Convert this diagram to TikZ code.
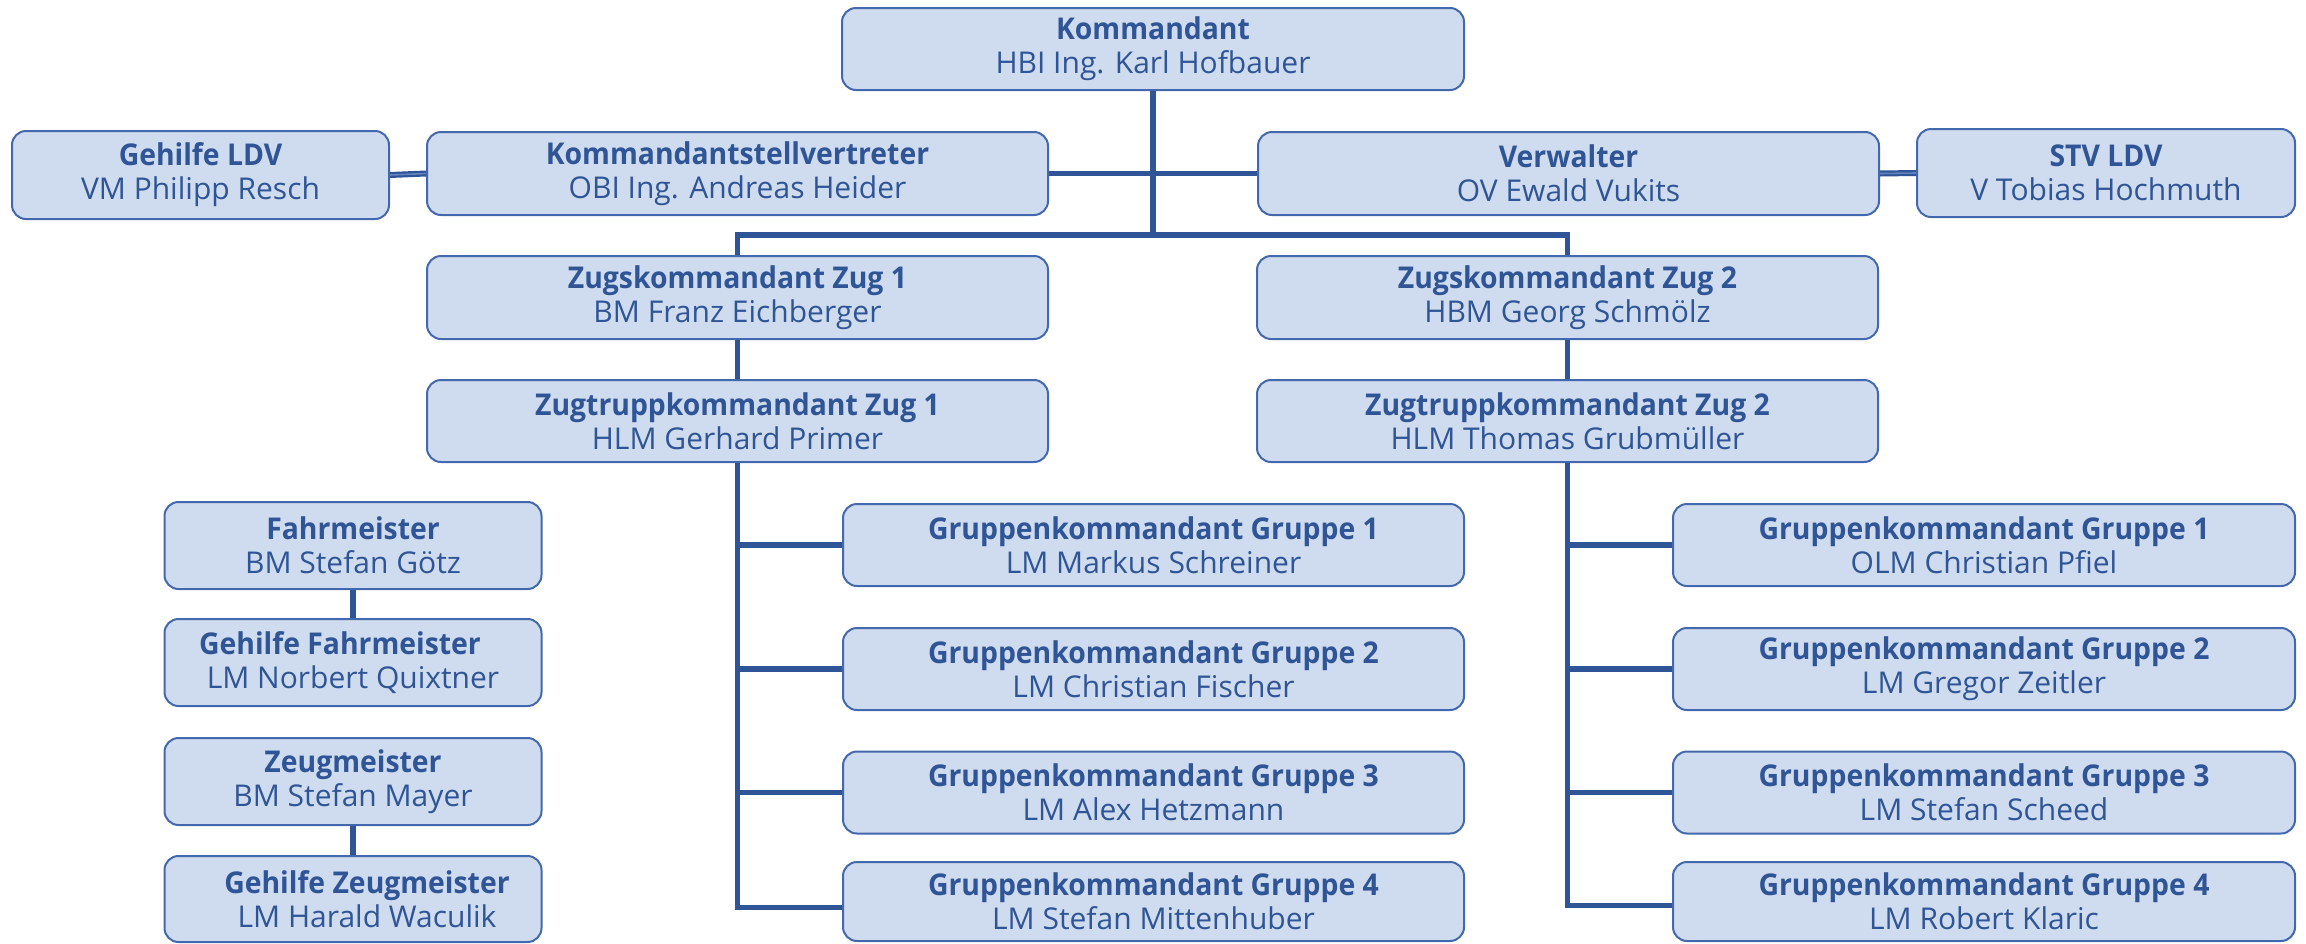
\documentclass[tikz,border=0pt]{standalone}
\usepackage{fontspec}
\setmainfont{Open Sans}[BoldFeatures={FakeStretch=0.945}]
\definecolor{boxfill}{HTML}{CFDBEE}
\definecolor{boxborder}{HTML}{4468AE}
\definecolor{textblue}{HTML}{2F5597}
\definecolor{lineblue}{HTML}{2F5597}
\definecolor{dmid}{HTML}{6482C0}
\tikzset{
  box/.style={draw=boxborder, fill=boxfill, rounded corners=14pt, line width=2pt,
    text=textblue, align=center, inner sep=0pt, font=\fontsize{30}{34}\selectfont},
  wide/.style={box, minimum width=621pt, minimum height=83pt},
  narrow/.style={box, minimum width=377pt, minimum height=87pt},
  conn/.style={draw=lineblue, line width=5.5pt},
  dconn/.style={draw=lineblue, line width=2.2pt, double=dmid, double distance=1.6pt},
}
\newcommand{\bx}[2]{{\bfseries #1}\\#2}
\begin{document}
\begin{tikzpicture}[x=1pt,y=-1pt]
\useasboundingbox (0,0) rectangle (2306,943);
\coordinate (bus) at (1153,235);
% nodes
\node[wide, minimum width=622pt, minimum height=82pt] (k) at (1153,49) {\bx{Kommandant}{HBI Ing. Karl Hofbauer}};
\node[narrow, minimum height=88pt] (gehldv) at (200.5,175) {\bx{Gehilfe LDV}{VM Philipp Resch}};
\node[wide] (kstv) at (737.5,173.5) {\bx{Kommandantstellvertreter}{OBI Ing. Andreas Heider}};
\node[wide] (verw) at (1568.5,173.5) {\bx{Verwalter}{OV Ewald Vukits}};
\node[narrow, minimum width=378pt, minimum height=88pt] (stvldv) at (2106,173) {\bx{STV LDV}{V Tobias Hochmuth}};
\node[wide] (zug1) at (737.5,297.5) {\bx{Zugskommandant Zug 1}{BM Franz Eichberger}};
\node[wide] (zug2) at (1567.5,297.5) {\bx{Zugskommandant Zug 2}{HBM Georg Schmölz}};
\node[wide, minimum height=82pt] (zt1) at (737.5,421) {\bx{Zugtruppkommandant Zug 1}{HLM Gerhard Primer}};
\node[wide, minimum height=82pt] (zt2) at (1567.5,421) {\bx{Zugtruppkommandant Zug 2}{HLM Thomas Grubmüller}};
\node[wide, minimum height=82pt] (g11) at (1153.5,545) {\bx{Gruppenkommandant Gruppe 1}{LM Markus Schreiner}};
\node[wide, minimum height=82pt] (g12) at (1153.5,669) {\bx{Gruppenkommandant Gruppe 2}{LM Christian Fischer}};
\node[wide, minimum height=82pt] (g13) at (1153.5,792.5) {\bx{Gruppenkommandant Gruppe 3}{LM Alex Hetzmann}};
\node[wide, minimum height=79pt] (g14) at (1153.5,901.5) {\bx{Gruppenkommandant Gruppe 4}{LM Stefan Mittenhuber}};
\node[wide, minimum width=622pt, minimum height=82pt] (g21) at (1984,545) {\bx{Gruppenkommandant Gruppe 1}{OLM Christian Pfiel}};
\node[wide, minimum width=622pt, minimum height=82pt] (g22) at (1984,669) {\bx{Gruppenkommandant Gruppe 2}{LM Gregor Zeitler}};
\node[wide, minimum width=622pt, minimum height=82pt] (g23) at (1984,792.5) {\bx{Gruppenkommandant Gruppe 3}{LM Stefan Scheed}};
\node[wide, minimum width=622pt, minimum height=79pt] (g24) at (1984,901.5) {\bx{Gruppenkommandant Gruppe 4}{LM Robert Klaric}};
\node[narrow] (fm) at (353,545.5) {\bx{Fahrmeister}{BM Stefan Götz}};
\node[narrow] (gfm) at (353,662.5) {{\bfseries Gehilfe Fahrmeister}\hspace*{26pt}\\LM Norbert Quixtner};
\node[narrow] (zm) at (353,781.5) {\bx{Zeugmeister}{BM Stefan Mayer}};
\node[narrow, minimum height=86pt] (gzm) at (353,899) {\hspace*{28pt}{\bfseries Gehilfe Zeugmeister}\\\hspace*{28pt}LM Harald Waculik};
% connectors
\draw[conn] (k.south) -- (bus);
\draw[conn] (kstv.east) -- (verw.west);
\draw[conn] (zug1.north) |- (bus) -| (zug2.north);
\draw[dconn] (gehldv.east) -- (kstv.west);
\draw[dconn] (verw.east) -- (stvldv.west);
\draw[conn] (zug1.south) -- (zt1.north);
\draw[conn] (zug2.south) -- (zt2.north);
\draw[conn] (zt1.south) |- ([yshift=-6pt]g14.west);
\draw[conn] (zt1.south |- g11.west) -- (g11.west);
\draw[conn] (zt1.south |- g12.west) -- (g12.west);
\draw[conn] (zt1.south |- g13.west) -- (g13.west);
\draw[conn] (zt2.south) |- ([yshift=-4pt]g24.west);
\draw[conn] (zt2.south |- g21.west) -- (g21.west);
\draw[conn] (zt2.south |- g22.west) -- (g22.west);
\draw[conn] (zt2.south |- g23.west) -- (g23.west);
\draw[conn] (fm.south) -- (gfm.north);
\draw[conn] (zm.south) -- (gzm.north);
\end{tikzpicture}
\end{document}
